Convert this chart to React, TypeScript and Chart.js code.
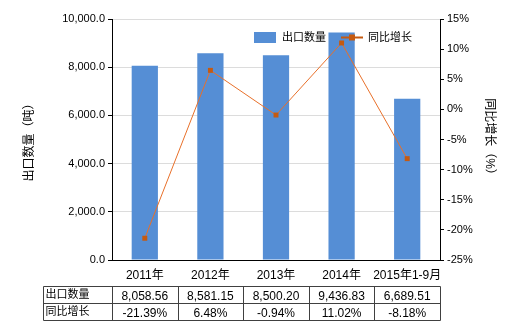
import React, { useEffect, useRef } from "react";
import { Chart, registerables } from "chart.js";

Chart.register(...registerables);

const categories = ["2011年", "2012年", "2013年", "2014年", "2015年1-9月"];
const exportQty = [8058.56, 8581.15, 8500.2, 9436.83, 6689.51];
const yoyGrowth = [-21.39, 6.48, -0.94, 11.02, -8.18];
const qtyLabels = ["8,058.56", "8,581.15", "8,500.20", "9,436.83", "6,689.51"];
const growthLabels = ["-21.39%", "6.48%", "-0.94%", "11.02%", "-8.18%"];
const seriesNames = ["出口数量", "同比增长"];
const leftTitle = "出口数量（吨）";
const rightTitle = "同比增长（%）";

const FONT = "'Liberation Sans', 'Noto Sans CJK SC', sans-serif";
const BAR_COLOR = "#558ED5";
const LINE_COLOR = "#E8702A";
const MARKER_COLOR = "#C55A11";

const tablePlugin = {
  id: "tableAndLegend",
  afterDraw(chart: any) {
    const ctx = chart.ctx;
    const x = chart.scales.x;
    ctx.save();
    // Legend
    ctx.fillStyle = BAR_COLOR;
    ctx.fillRect(254, 32, 22, 11);
    ctx.font = `11px ${FONT}`;
    ctx.fillStyle = "#000";
    ctx.textBaseline = "middle";
    ctx.textAlign = "left";
    ctx.fillText(seriesNames[0], 282, 38);
    ctx.strokeStyle = MARKER_COLOR;
    ctx.lineWidth = 2;
    ctx.beginPath();
    ctx.moveTo(341, 37.5);
    ctx.lineTo(363, 37.5);
    ctx.stroke();
    ctx.fillStyle = MARKER_COLOR;
    ctx.fillRect(349, 34.5, 6, 6);
    ctx.fillStyle = "#000";
    ctx.fillText(seriesNames[1], 368, 38);

    // Table
    const n = categories.length;
    const step = (x.right - x.left) / n;
    const left = 43.5;
    const top = 286.5;
    const mid = 303.5;
    const bottom = 320.5;
    const colEdges: number[] = [left];
    for (let i = 0; i <= n; i++) colEdges.push(Math.round(x.left + step * i) + 0.5);
    ctx.strokeStyle = "#404040";
    ctx.lineWidth = 1;
    ctx.beginPath();
    [top, mid, bottom].forEach((yy) => {
      ctx.moveTo(left, yy);
      ctx.lineTo(colEdges[colEdges.length - 1], yy);
    });
    colEdges.forEach((xx) => {
      ctx.moveTo(xx, top);
      ctx.lineTo(xx, bottom);
    });
    ctx.stroke();
    ctx.fillStyle = "#000";
    ctx.font = `11px ${FONT}`;
    ctx.textAlign = "left";
    ctx.fillText(seriesNames[0], left + 2, (top + mid) / 2);
    ctx.fillText(seriesNames[1], left + 2, (mid + bottom) / 2);
    ctx.textAlign = "center";
    ctx.font = `12px ${FONT}`;
    for (let i = 0; i < n; i++) {
      const cx = x.getPixelForValue(i);
      ctx.fillText(qtyLabels[i], cx, (top + mid) / 2 + 2);
      ctx.fillText(growthLabels[i], cx, (mid + bottom) / 2 + 2);
    }
    ctx.restore();
  },
};

export default function App() {
  const ref = useRef<HTMLCanvasElement>(null);
  useEffect(() => {
    const chart = new Chart(ref.current!, {
      type: "bar",
      data: {
        labels: categories,
        datasets: [
          {
            type: "line",
            label: seriesNames[1],
            data: yoyGrowth,
            yAxisID: "y1",
            borderColor: LINE_COLOR,
            borderWidth: 1,
            pointStyle: "rect",
            pointRadius: 3.5,
            pointBackgroundColor: MARKER_COLOR,
            pointBorderColor: MARKER_COLOR,
            pointBorderWidth: 0,
            order: 0,
          },
          {
            type: "bar",
            label: seriesNames[0],
            data: exportQty,
            yAxisID: "y",
            backgroundColor: BAR_COLOR,
            barPercentage: 0.4,
            categoryPercentage: 1,
            order: 1,
          },
        ],
      },
      options: {
        responsive: false,
        animation: false,
        layout: { padding: { left: 0, right: 0, top: 19, bottom: 44 } },
        plugins: { legend: { display: false }, tooltip: { enabled: false } },
        scales: {
          x: {
            offset: true,
            grid: { display: false, drawTicks: false },
            border: { color: "#000" },
            ticks: { color: "#000", font: { size: 12, family: FONT }, padding: 8, maxRotation: 0, autoSkip: false },
            afterFit: (s: any) => { s.height = 26; },
          },
          y: {
            position: "left",
            min: 0,
            max: 10000,
            ticks: {
              stepSize: 2000,
              color: "#000",
              font: { size: 11, family: FONT },
              padding: 3,
              callback: (v: any) => Number(v).toLocaleString("en-US", { minimumFractionDigits: 1, maximumFractionDigits: 1 }),
            },
            grid: { color: "#DCDCDC", tickColor: "#000", tickLength: 4, drawOnChartArea: true },
            border: { color: "#000" },
            title: { display: true, text: leftTitle, color: "#000", font: { size: 12, family: FONT }, padding: { top: 22, bottom: 0 } },
            afterFit: (s: any) => { s.width = 112; },
          },
          y1: {
            position: "right",
            min: -25,
            max: 15,
            ticks: {
              stepSize: 5,
              color: "#000",
              font: { size: 11, family: FONT },
              padding: 3,
              callback: (v: any) => `${v}%`,
            },
            grid: { drawOnChartArea: false, tickColor: "#000", tickLength: 4 },
            border: { color: "#000" },
            title: { display: true, text: rightTitle, color: "#000", font: { size: 12, family: FONT }, padding: { top: 23, bottom: 0 } },
            afterFit: (s: any) => { s.width = 80; },
          },
        },
      },
      plugins: [tablePlugin],
    });
    return () => chart.destroy();
  }, []);
  return (
    <div style={{ position: "fixed", left: 0, top: 0, width: 520, height: 330, background: "#fff" }}>
      <canvas ref={ref} width={520} height={330} />
    </div>
  );
}
